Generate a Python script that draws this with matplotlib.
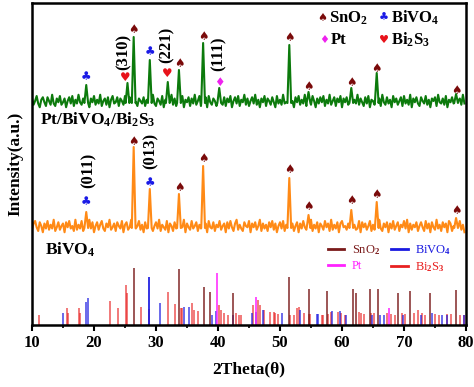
import numpy as np
import matplotlib
matplotlib.use('Agg')
import matplotlib.pyplot as plt
from matplotlib.lines import Line2D

plt.rcParams['font.family'] = ['Liberation Serif', 'DejaVu Sans']
plt.rcParams['font.weight'] = 'bold'
plt.rcParams['mathtext.fontset'] = 'custom'
plt.rcParams['mathtext.rm'] = 'Liberation Serif:bold'
plt.rcParams['mathtext.it'] = 'Liberation Serif:bold'
plt.rcParams['mathtext.bf'] = 'Liberation Serif:bold'

# --- reference stick patterns (2theta, relative height) ---
sno2_pos = [26.4, 33.7, 37.7, 38.7, 42.4, 51.5, 54.6, 57.6, 61.7, 62.3,
            64.5, 65.8, 69.0, 71.0, 74.2, 78.4]
sno2_h = [57, 56, 38, 33, 32, 48, 36, 34, 36, 32, 36, 36, 32, 34, 32, 35]

bivo4_pos = [15.0, 18.75, 19.0, 28.8, 28.95, 30.6, 34.5, 35.3, 39.0, 39.7,
             42.4, 45.5, 46.1, 47.2, 50.3, 53.2, 56.0, 56.2, 58.4, 59.7,
             60.6, 64.9, 66.2, 66.7, 69.9, 72.7, 74.5, 76.1, 77.0, 79.7]
bivo4_h = [12, 23, 27, 48, 48, 22, 18, 18, 10, 14,
           10, 12, 13, 15, 12, 15, 11, 11, 14, 14,
           10, 10, 10, 10, 10, 10, 12, 10, 10, 10]

bi2s3_pos = [11.1, 15.6, 15.8, 17.6, 17.75, 22.5, 23.8, 25.1, 25.25, 27.5,
             28.8, 31.9, 33.0, 34.0, 34.2, 35.8, 36.2, 36.8, 40.2, 40.5,
             40.9, 41.6, 42.9, 43.4, 43.7, 45.6, 46.5, 46.8, 47.4, 48.4,
             49.0, 49.2, 49.7, 51.6, 52.3, 52.8, 53.0, 53.9, 54.6, 54.9,
             56.7, 57.0, 57.8, 58.3, 59.3, 59.9, 60.5, 62.7, 63.1, 63.5,
             64.6, 65.2, 67.2, 67.9, 68.5, 69.6, 70.1, 71.6, 72.3, 72.9,
             73.4, 75.0, 75.6, 76.9, 77.6, 79.0, 79.6]
bi2s3_h = [10, 17, 12, 17, 12, 24, 17, 40, 32, 18,
           16, 33, 21, 17, 17, 22, 15, 14, 20, 15,
           12, 10, 12, 10, 10, 20, 25, 20, 15, 13,
           13, 12, 11, 10, 10, 17, 18, 12, 11, 11,
           10, 10, 11, 13, 13, 12, 10, 13, 12, 11,
           12, 12, 12, 11, 10, 12, 11, 12, 15, 12,
           10, 11, 10, 11, 11, 10, 10]

pt_pos = [39.8, 46.2, 67.5]
pt_h = [52, 28, 17]

# --- measured patterns: baseline noise every 0.25 deg from 10 to 79.75 ---
green_noise = [2, -3, 0, 4, -2, -5, 1, 3, -1, -4,
               3, 0, -3, 5, -2, -4, 2, -1, 4, -3,
               -1, 2, -5, 0, 3, -2, 4, -4, 1, -2,
               5, -1, -3, 2, -4, 0, 3, -5, 2, -1,
               4, -3, 1, -2, 5, -4, 0, 2, -3, 3,
               -5, 1, 4, -2, -1, 3, -4, 2, 0, -3,
               4, -2, -5, 3, 1, -3, 5, -1, -4, 2,
               0, -2, 3, -4, 1, 4, -3, -1, 5, -2,
               -4, 2, 0, -3, 4, -5, 1, 3, -2, -1,
               5, -3, 2, -4, 0, 3, -2, 4, -5, 1,
               -1, 3, -4, 2, -2, 5, -3, 0, 4, -4,
               1, -2, 3, -5, 4, -1, -3, 2, 0, -4,
               5, -2, 1, -3, 3, -4, 2, -1, 4, -5,
               0, 3, -2, 4, -4, 1, -1, 5, -3, 2,
               -4, 0, 3, -2, 5, -3, 1, -5, 2, -1,
               4, -4, 2, 0, -3, 3, -1, -5, 4, -2,
               1, -3, 5, -2, -1, 3, -4, 2, 0, -5,
               3, -1, 4, -3, 1, -2, 5, -4, 2, -1,
               -3, 4, 0, -5, 2, -2, 3, -1, 4, -4,
               1, -2, 5, -3, 0, 3, -4, 2, -1, 4,
               -5, 2, -1, 3, -3, 4, 0, -4, 1, -2,
               5, -3, 2, -1, -4, 3, -2, 4, -5, 1,
               0, -3, 4, -2, 2, -4, 5, -1, -3, 3,
               -2, 1, -5, 4, -1, 2, -3, 0, 3, -4,
               4, -2, 1, -3, 5, -5, 2, -1, 3, -2,
               -4, 3, 0, -2, 4, -3, 1, -5, 2, 0,
               3, -4, 5, -1, -2, 2, -3, 4, -5, 1,
               -1, 3, -2, 4, -4, 0, 2, -3, 5, -2]
orange_noise = [-3, 2, 4, -1, -4, 3, 0, -5, 2, -2,
                4, -3, 1, -2, 5, -4, -1, 3, -3, 0,
                2, -5, 3, -1, 4, -2, 0, -4, 5, -3,
                1, -2, 4, -4, 2, -1, -3, 5, -2, 3,
                -5, 0, 3, -3, 1, 4, -2, -4, 2, -1,
                5, -3, -1, 2, -4, 3, 0, -2, 4, -5,
                1, 3, -3, -1, 5, -4, 2, -2, 0, 4,
                -3, 1, -5, 3, -2, 4, -1, 2, -4, 0,
                3, -2, 5, -4, 1, -1, -3, 4, -5, 2,
                0, -4, 3, -2, 4, -3, 1, -1, 5, -5,
                2, -1, -3, 4, -2, 0, 3, -4, 1, -2,
                5, -3, 2, -5, 4, -1, -2, 3, -4, 1,
                -1, 4, -3, 0, 2, -5, 3, -2, 4, -1,
                -4, 2, 5, -3, 1, -2, -4, 3, 0, -1,
                4, -5, 2, -1, 3, -3, 0, 5, -4, 2,
                -2, 1, -4, 3, -1, 4, -3, 2, -5, 0,
                3, -2, 4, -4, 1, -1, 5, -3, 2, -4,
                0, 3, -5, 2, -2, 4, -1, -3, 3, -1,
                5, -4, 1, -2, 3, -5, 2, 0, -3, 4,
                -1, 2, -4, 5, -3, 1, -2, 3, -5, 2,
                4, -1, 0, -3, 2, -4, 5, -2, 1, -3,
                -2, 4, -5, 3, -1, 2, -3, 0, 4, -4,
                1, -3, 3, -1, 5, -2, -4, 2, -1, 3,
                -5, 2, -2, 4, -3, 0, 3, -4, 1, -1,
                4, -2, 5, -5, 2, -3, 1, -1, 3, -4,
                0, 3, -1, -4, 4, -2, 2, -5, 3, -1,
                -3, 5, -2, 1, -4, 3, -1, 2, -5, 4,
                2, -4, 0, 3, -2, -1, 4, -3, 1, -5]

green_base = 224
green_peak_pos = [18.75, 25.4, 26.4, 29.0, 31.9, 33.7, 37.6, 40.2, 51.5,
                  54.6, 61.5, 65.6, 78.4]
green_peak_h = [16, 18, 64, 41, 19, 31, 58, 13, 56, 9, 13, 28, 7]

orange_base = 99
orange_peak_pos = [18.75, 26.4, 29.0, 33.7, 37.6, 51.5, 54.6, 61.5, 65.6, 78.4]
orange_peak_h = [14, 79, 37, 32, 60, 48, 11, 16, 24, 8]

# phase markers above peaks
green_mark_x = [18.75, 25.1, 26.4, 29.0, 31.8, 33.7, 37.6, 40.2, 51.5,
                54.6, 61.5, 65.6, 78.4]
green_mark_y = [248, 248, 296, 273, 252, 262, 289, 243, 288, 239, 243, 257, 235]
green_mark_phase = ['BiVO4', 'Bi2S3', 'SnO2', 'BiVO4', 'Bi2S3', 'SnO2', 'SnO2',
                    'Pt', 'SnO2', 'SnO2', 'SnO2', 'SnO2', 'SnO2']
orange_mark_x = [18.75, 26.4, 29.0, 33.7, 37.6, 51.5, 54.6, 61.5, 65.6, 78.4]
orange_mark_y = [123, 184, 142, 138, 167, 156, 119, 125, 131, 115]
orange_mark_phase = ['BiVO4', 'SnO2', 'BiVO4', 'SnO2', 'SnO2', 'SnO2', 'SnO2',
                     'SnO2', 'SnO2', 'SnO2']

hkl_text = ['(310)', '(221)', '(111)', '(011)', '(013)']
hkl_x = [24.8, 31.7, 40.1, 19.2, 29.1]
hkl_y = [273, 280, 271, 155, 174]

symbols = {'SnO2': '\u2660', 'BiVO4': '\u2663', 'Pt': '\u2666', 'Bi2S3': '\u2665'}
sym_colors = {'SnO2': '#7a0a0a', 'BiVO4': '#1a1ae6', 'Pt': '#ee22ee', 'Bi2S3': '#e8121a'}


def build_curve(base, noise, peak_pos, peak_h, hw=0.3, amp=1.25):
    x = np.arange(len(noise)) * 0.25 + 10.0
    y = base + amp * np.array(noise, dtype=float)
    keep = np.ones(len(x), dtype=bool)
    for p in peak_pos:
        keep &= np.abs(x - p) > hw
    xs = list(x[keep])
    ys = list(y[keep])
    for p, h in zip(peak_pos, peak_h):
        xs += [p - hw, p, p + hw]
        ys += [base - 2, base + h, base - 2]
    order = np.argsort(xs)
    return np.array(xs)[order], np.array(ys)[order]


fig = plt.figure(figsize=(4.74, 3.87), dpi=100)
ax = fig.add_axes([32 / 474, 1 - 325 / 387, 434 / 474, 322 / 387])

gx, gy = build_curve(green_base, green_noise, green_peak_pos, green_peak_h)
ox, oy = build_curve(orange_base, orange_noise, orange_peak_pos, orange_peak_h)
ax.plot(gx, gy, color='#0c7a0c', lw=1.5)
ax.plot(ox, oy, color='#ff8a16', lw=1.5)

ax.vlines(bi2s3_pos, 0, bi2s3_h, color='#e82020', alpha=0.65, lw=1.3)
ax.vlines(bivo4_pos, 0, bivo4_h, color='#1a1ae0', alpha=0.7, lw=1.3)
ax.vlines(sno2_pos, 0, sno2_h, color='#7a1a1a', alpha=0.8, lw=1.3)
ax.vlines(pt_pos, 0, pt_h, color='#ff22ff', alpha=0.85, lw=1.3)

for xs, ys, ph in [(green_mark_x, green_mark_y, green_mark_phase),
                   (orange_mark_x, orange_mark_y, orange_mark_phase)]:
    for x, y, p in zip(xs, ys, ph):
        ax.text(x, y, symbols[p], color=sym_colors[p], fontsize=8.5,
                family='DejaVu Sans', ha='center', va='center')

for t, x, y in zip(hkl_text, hkl_x, hkl_y):
    ax.text(x, y, t, rotation=90, ha='center', va='center', fontsize=12,
            fontweight='bold')

ax.text(0.018, 0.637, r'Pt/BiVO$_4$/Bi$_2$S$_3$', transform=ax.transAxes,
        fontsize=12.5, va='center', ha='left')
ax.text(0.03, 0.233, r'BiVO$_4$', transform=ax.transAxes,
        fontsize=12.5, va='center', ha='left')

# symbol legend (top right)
leg_items = [('SnO2', r'SnO$_2$', 0.668, 0.953), ('BiVO4', r'BiVO$_4$', 0.811, 0.953),
             ('Pt', 'Pt', 0.673, 0.885), ('Bi2S3', r'Bi$_2$S$_3$', 0.811, 0.885)]
for key, lab, lx, ly in leg_items:
    ax.text(lx, ly, symbols[key], color=sym_colors[key], fontsize=8,
            family='DejaVu Sans', ha='center', va='center', transform=ax.transAxes)
    ax.text(lx + 0.016, ly, lab, fontsize=12, ha='left', va='center',
            transform=ax.transAxes)

# stick-pattern legend
stick_colors = ['#7a1a1a', '#ff22ff', '#1a1ae0', '#e82020']
stick_labels = [r'SnO$_2$', 'Pt', r'BiVO$_4$', r'Bi$_2$S$_3$']
handles = [Line2D([], [], color=c, lw=2) for c in stick_colors]
leg = ax.legend(handles, stick_labels, ncol=2, frameon=False, fontsize=9,
                loc='upper left', bbox_to_anchor=(0.682, 0.255),
                handlelength=1.3, handletextpad=0.6, columnspacing=0.9,
                labelspacing=0.3, borderpad=0, borderaxespad=0)
for txt, c in zip(leg.get_texts(), stick_colors):
    txt.set_color(c)
    txt.set_fontweight('normal')

ax.set_xlim(10, 80)
ax.set_ylim(0, 322)
ax.set_xticks(np.arange(10, 81, 10))
ax.set_xticks(np.arange(15, 80, 10), minor=True)
ax.set_yticks([])
ax.tick_params(axis='x', which='major', direction='out', length=4, width=1.5,
               labelsize=12, pad=3)
ax.tick_params(axis='x', which='minor', direction='out', length=2.5, width=1.2)
for lab in ax.get_xticklabels():
    lab.set_fontweight('bold')
for s in ax.spines.values():
    s.set_linewidth(1.8)

ax.set_xlabel('2Theta(\u03b8)', fontsize=12.5, fontweight='bold', labelpad=8)
ax.set_ylabel('Intensity(a.u.)', fontsize=12.5, fontweight='bold', labelpad=6)

fig.savefig('out.png', dpi=100)
